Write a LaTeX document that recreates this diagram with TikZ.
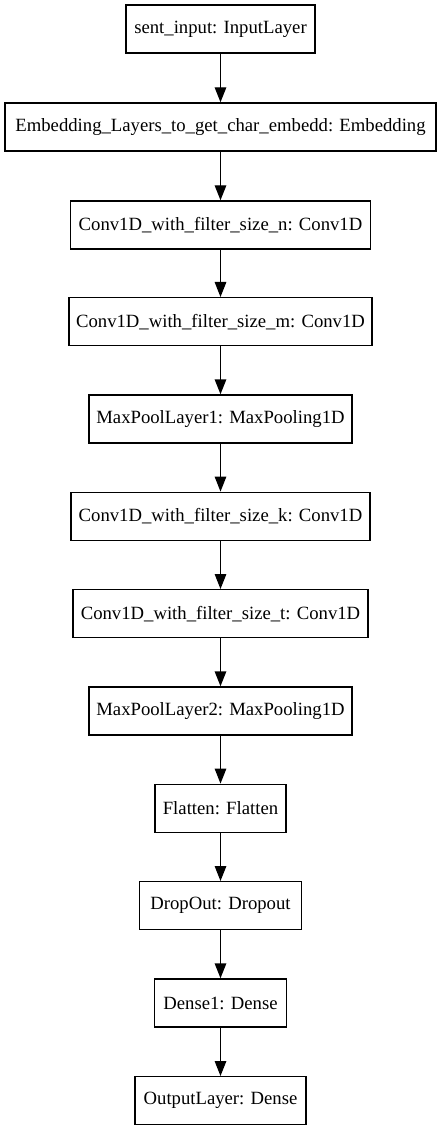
\documentclass[tikz,border=0pt]{standalone}
\usepackage{fontspec}
\setmainfont{Liberation Serif}
\usetikzlibrary{arrows.meta}
\begin{document}
\begin{tikzpicture}[x=1pt,y=-1pt,
  layer/.style={draw,line width=1.4pt,minimum height=48pt,inner sep=0pt,
    font=\fontsize{18.7}{22}\selectfont},
  conn/.style={line width=1.4pt,-{Triangle[length=15pt,width=11.5pt]}}]
\useasboundingbox (0,0) rectangle (441,1131);
\node[layer,minimum width=189pt] (n1) at (220.5,29) {sent\_input: InputLayer};
\node[layer,minimum width=431pt] (n2) at (220.5,127) {Embedding\_Layers\_to\_get\_char\_embedd: Embedding};
\node[layer,minimum width=300pt] (n3) at (220.5,225) {Conv1D\_with\_filter\_size\_n: Conv1D};
\node[layer,minimum width=303pt] (n4) at (220.5,321.7) {Conv1D\_with\_filter\_size\_m: Conv1D};
\node[layer,minimum width=263pt] (n5) at (220.5,419) {MaxPoolLayer1: MaxPooling1D};
\node[layer,minimum width=299pt] (n6) at (220.5,516.3) {Conv1D\_with\_filter\_size\_k: Conv1D};
\node[layer,minimum width=295pt] (n7) at (220.5,613.7) {Conv1D\_with\_filter\_size\_t: Conv1D};
\node[layer,minimum width=263pt] (n8) at (220.5,711) {MaxPoolLayer2: MaxPooling1D};
\node[layer,minimum width=131pt] (n9) at (220.5,808.3) {Flatten: Flatten};
\node[layer,minimum width=162pt] (n10) at (220.5,905.7) {DropOut: Dropout};
\node[layer,minimum width=132pt] (n11) at (220.5,1003) {Dense1: Dense};
\node[layer,minimum width=171pt] (n12) at (220.5,1100.7) {OutputLayer: Dense};
\foreach \a/\b in {n1/n2,n2/n3,n3/n4,n4/n5,n5/n6,n6/n7,n7/n8,n8/n9,n9/n10,n10/n11,n11/n12}
  \draw[conn] (\a) -- (\b);
\end{tikzpicture}
\end{document}
